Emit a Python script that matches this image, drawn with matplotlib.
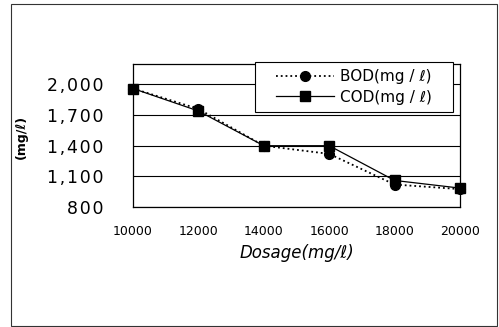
import matplotlib
matplotlib.use("Agg")
import matplotlib.pyplot as plt
from matplotlib.patches import Rectangle

dosage = [10000, 12000, 14000, 16000, 18000, 20000]
bod = [1960, 1760, 1400, 1320, 1020, 975]
cod = [1960, 1740, 1400, 1400, 1060, 985]
yticks = [800, 1100, 1400, 1700, 2000]
ytick_labels = ["800", "1,100", "1,400", "1,700", "2,000"]
xticks = [10000, 12000, 14000, 16000, 18000, 20000]

plt.rcParams['font.family'] = ['DejaVu Sans']
HS = '\u200a'

fig = plt.figure(figsize=(4.99, 3.27), dpi=100)
fig.patches.append(Rectangle((11/499, 1-326/327), (497-11)/499, (326-4)/327,
                             transform=fig.transFigure, fill=False,
                             edgecolor='#333333', linewidth=0.8))

ax = fig.add_axes([133/499, 1-207/327, 327/499, 143/327])
ax.plot(dosage, bod, linestyle=':', color='black', marker='o', markersize=7,
        linewidth=1.3, label=f'BOD(mg / ℓ)', clip_on=False, zorder=3)
ax.plot(dosage, cod, linestyle='-', color='black', marker='s', markersize=7,
        linewidth=0.9, label=f'COD(mg / ℓ)', clip_on=False, zorder=3)

ax.set_xlim(10000, 20000)
ax.set_ylim(800, 2200)
ax.set_yticks(yticks)
ax.set_yticklabels([HS.join(t) for t in ytick_labels], fontsize=12.5)
ax.set_xticks(xticks)
ax.set_xticklabels([str(x) for x in xticks], fontsize=9)
ax.tick_params(axis='both', length=0)
ax.tick_params(axis='y', pad=21)
ax.tick_params(axis='x', pad=13)
ax.yaxis.grid(True, color='black', linewidth=0.8)
ax.set_axisbelow(True)
for s in ax.spines.values():
    s.set_color('black')
    s.set_linewidth(0.9)

ax.set_xlabel('Dosage(mg/ℓ)', fontsize=12, fontstyle='italic', labelpad=4)
fig.text(21/499, 1-137/327, '(mg/ℓ)', rotation=90, fontsize=9,
         ha='center', va='center', fontweight='bold')

# legend box spanning px x 255-453, y 62-112
lx0 = (255-133)/327
lx1 = (453-133)/327
ly0 = (207-112)/143
ly1 = (207-62)/143
ax.add_patch(Rectangle((lx0, ly0), lx1-lx0, ly1-ly0, transform=ax.transAxes,
                       facecolor='white', edgecolor='black', linewidth=0.8,
                       zorder=4, clip_on=False))
leg = ax.legend(loc='center', bbox_to_anchor=((lx0+lx1)/2, (ly0+ly1)/2),
                fontsize=11, frameon=False, handlelength=3.8,
                handletextpad=0.4, borderpad=0, labelspacing=0.35,
                borderaxespad=0)
leg.set_zorder(5)

fig.savefig('out.png', dpi=100)
